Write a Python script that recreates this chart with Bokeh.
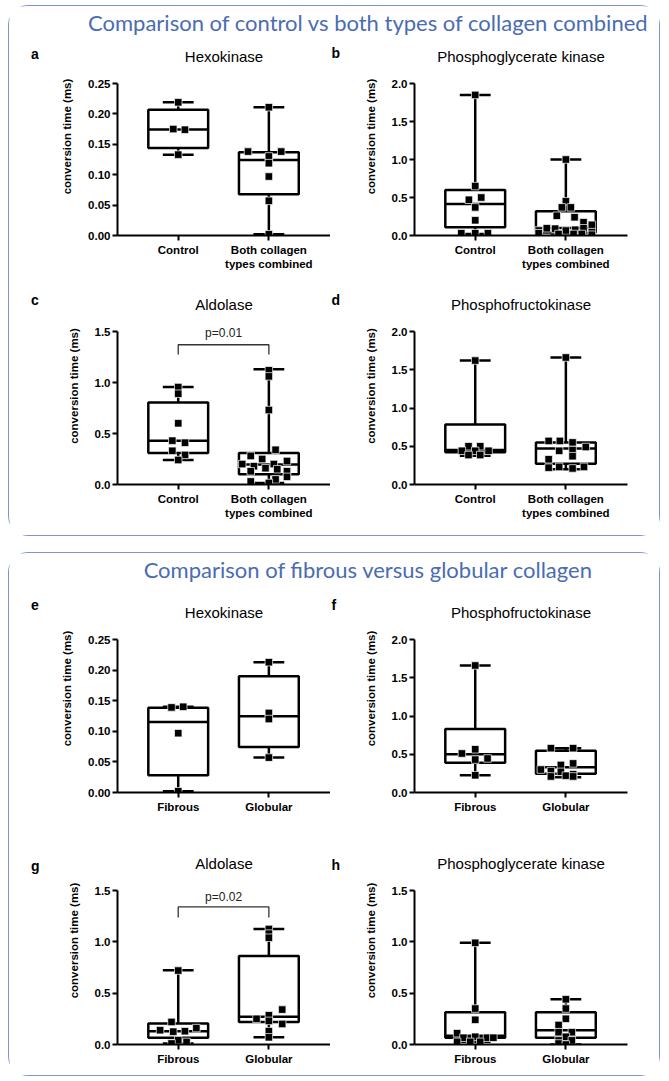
from bokeh.plotting import figure
from bokeh.models import Range1d, FixedTicker, Label, PrintfTickFormatter
from bokeh.layouts import column, row
from bokeh.embed import file_html
from bokeh.resources import INLINE
from bokeh.core.properties import value

# ---------------- data ----------------
section_titles = ["Comparison of control vs both types of collagen combined",
                  "Comparison of fibrous versus globular collagen"]
cats_top = ["Control", "Both collagen\ntypes combined"]
cats_bottom = ["Fibrous", "Globular"]
letters = ["a", "b", "c", "d", "e", "f", "g", "h"]
titles = ["Hexokinase", "Phosphoglycerate kinase", "Aldolase", "Phosphofructokinase",
          "Hexokinase", "Phosphofructokinase", "Aldolase", "Phosphoglycerate kinase"]
y_max = [0.25, 2.0, 1.5, 2.0, 0.25, 2.0, 1.5, 1.5]
y_step = [0.05, 0.5, 0.5, 0.5, 0.05, 0.5, 0.5, 0.5]
y_fmt = ["%.2f", "%.1f", "%.1f", "%.1f", "%.2f", "%.1f", "%.1f", "%.1f"]
y_label = "conversion time (ms)"

# box stats: [min, q1, median, q3, max]
# panel a
a_vals_0 = [0.219, 0.175, 0.174, 0.133]
a_dx_0 = [0, -0.055, 0.074, 0.0]
a_box_0 = [0.133, 0.144, 0.1745, 0.207, 0.219]
a_vals_1 = [0.211, 0.138, 0.138, 0.130, 0.119, 0.097, 0.057, 0.002]
a_dx_1 = [0, -0.23, 0.136, 0, 0, 0, 0, 0]
a_box_1 = [0.002, 0.068, 0.124, 0.137, 0.211]
# panel b
b_vals_0 = [1.85, 0.65, 0.50, 0.47, 0.37, 0.20, 0.03, 0.03, 0.03]
b_dx_0 = [0, 0, 0.066, -0.07, 0, 0, -0.154, 0, 0.14]
b_box_0 = [0.02, 0.11, 0.415, 0.60, 1.85]
b_vals_1 = [1.0, 0.45, 0.37, 0.37, 0.26, 0.24, 0.175, 0.14, 0.065, 0.095,
            0.09, 0.065, 0.075, 0.095, 0.045, 0.03, 0.02, 0.02, 0.02, 0.01]
b_dx_1 = [0, 0, -0.044, 0.055, -0.1, 0.096, 0.195, 0.287, -0.3, -0.21,
          -0.118, 0, 0.103, 0.195, 0.287, -0.3, -0.081, 0.085, 0.176, 0.287]
b_box_1 = [0.0, 0.04, 0.10, 0.32, 1.0]
# panel c
c_vals_0 = [0.955, 0.89, 0.60, 0.43, 0.41, 0.33, 0.29, 0.24]
c_dx_0 = [0, 0, 0, -0.065, 0.075, -0.065, 0.075, 0]
c_box_0 = [0.24, 0.31, 0.43, 0.805, 0.955]
c_vals_1 = [1.12, 1.06, 0.73, 0.34, 0.28, 0.25, 0.23, 0.20, 0.18,
            0.20, 0.16, 0.15, 0.13, 0.13, 0.075, 0.03, 0.05, 0.015]
c_dx_1 = [0, 0, 0, 0.074, -0.2, -0.074, 0.2, -0.294, -0.165,
          0.055, -0.037, 0.092, 0.2, -0.2, 0.2, -0.2, 0.074, 0]
c_box_1 = [0.015, 0.10, 0.195, 0.31, 1.13]
c_sig = [1.37, 1.275, 1.49]          # bracket level, bracket foot, text baseline
c_sig_text = "p=0.01"
# panel d
d_vals_0 = [1.62, 0.50, 0.50, 0.44, 0.44, 0.44, 0.385, 0.385]
d_dx_0 = [0, -0.074, 0.055, -0.147, 0, 0.147, -0.074, 0.055]
d_box_0 = [0.375, 0.42, 0.45, 0.785, 1.62]
d_vals_1 = [1.66, 0.57, 0.57, 0.55, 0.49, 0.44, 0.45, 0.37, 0.33, 0.22, 0.23, 0.21, 0.23]
d_dx_1 = [0, -0.19, -0.066, 0.074, 0.22, -0.074, 0.074, 0.074, -0.19, -0.19, -0.074, 0.074, 0.2]
d_box_1 = [0.20, 0.27, 0.47, 0.55, 1.66]
# panel e
e_vals_0 = [0.139, 0.140, 0.097, 0.002]
e_dx_0 = [-0.074, 0.055, 0, 0]
e_box_0 = [0.002, 0.028, 0.115, 0.1386, 0.140]
e_vals_1 = [0.213, 0.130, 0.120, 0.057]
e_dx_1 = [0, 0, 0, 0]
e_box_1 = [0.057, 0.0745, 0.1245, 0.190, 0.213]
# panel f
f_vals_0 = [1.66, 0.51, 0.565, 0.445, 0.43, 0.225]
f_dx_0 = [0, -0.147, 0, 0.136, 0, 0]
f_box_0 = [0.225, 0.39, 0.50, 0.83, 1.66]
f_vals_1 = [0.58, 0.58, 0.38, 0.36, 0.30, 0.28, 0.27, 0.24, 0.22, 0.21, 0.21]
f_dx_1 = [-0.165, 0.08, 0.08, -0.055, -0.276, -0.165, -0.055, 0.08, 0, -0.165, 0.08]
f_box_1 = [0.20, 0.245, 0.33, 0.545, 0.58]
# panel g
g_vals_0 = [0.72, 0.22, 0.14, 0.125, 0.13, 0.16, 0.042, 0.01, 0.025]
g_dx_0 = [0, -0.074, -0.2, -0.055, 0.074, 0.2, 0, -0.074, 0.092]
g_box_0 = [0.01, 0.065, 0.13, 0.204, 0.722]
g_vals_1 = [1.125, 1.08, 1.04, 0.34, 0.25, 0.285, 0.23, 0.20, 0.13, 0.07]
g_dx_1 = [0, 0, 0, 0.147, -0.136, 0, 0, 0.147, 0, 0]
g_box_1 = [0.07, 0.22, 0.27, 0.862, 1.125]
g_sig = [1.34, 1.236, 1.44]
g_sig_text = "p=0.02"
# panel h
h_vals_0 = [0.99, 0.35, 0.24, 0.11, 0.066, 0.075, 0.066, 0.066, 0.026, 0.026, 0.026]
h_dx_0 = [0, 0, 0, -0.2, -0.13, 0, 0.13, 0.2, -0.2, -0.055, 0.055]
h_box_0 = [0.026, 0.066, 0.085, 0.315, 0.99]
h_vals_1 = [0.44, 0.35, 0.25, 0.19, 0.12, 0.12, 0.075, 0.04, 0.04, 0.01, 0.0]
h_dx_1 = [0, 0, 0, -0.08, 0.066, -0.08, 0, -0.08, 0.066, -0.08, 0]
h_box_1 = [0.0, 0.066, 0.14, 0.315, 0.44]

# ---------------- styling / layout ----------------
FONT = "Liberation Sans"
HEAD_FONT = "Lato"
HEAD_COLOR = "#4a6cb3"
FRAME_COLOR = "#7b95cf"
X0, X1 = -0.67, 1.68
BOX_HALF = 0.33
CAP_HALF = 0.17
LW = 2.5
FRAME_W = 213
TITLE_DY = 27.5   # px between top tick and title


def blank(width, height):
    f = figure(width=width, height=height, x_range=Range1d(0, width), y_range=Range1d(0, height),
               output_backend="svg", toolbar_location=None,
               x_axis_location=None, y_axis_location=None, min_border=0)
    f.outline_line_color = None
    f.grid.visible = False
    return f


def letter_fig(i, col, height, baseline_from_top):
    width, lx = (30, 21.5) if col == 0 else (14, 1)
    f = blank(width, height)
    f.add_layout(Label(x=lx, y=height - baseline_from_top, text=letters[i], text_font=FONT,
                       text_font_style="bold", text_font_size="14px", text_align="left",
                       text_baseline="alphabetic", text_color="black"))
    return f


def make_panel(i, cats, g0, g1, sig, sig_text, col, height, top_px, plot_px):
    if col == 0:
        width, border_left = 78 + FRAME_W, 78
    else:
        width, border_left = 70 + FRAME_W + 32, 70
    frame_h = top_px + plot_px
    ymax = y_max[i]
    y_end = ymax * frame_h / plot_px
    p = figure(width=width, height=height, x_range=Range1d(X0, X1), y_range=Range1d(0, y_end),
               output_backend="svg", toolbar_location=None,
               min_border_left=border_left, min_border_right=width - border_left - FRAME_W,
               min_border_top=0, min_border_bottom=height - frame_h)
    p.title.visible = False
    p.outline_line_color = None
    p.grid.visible = False

    vals = [g0[0], g1[0]]
    dxs = [g0[1], g1[1]]
    boxes = [g0[2], g1[2]]
    xs = [0, 1]
    mins = [b[0] for b in boxes]
    q1s = [b[1] for b in boxes]
    meds = [b[2] for b in boxes]
    q3s = [b[3] for b in boxes]
    maxs = [b[4] for b in boxes]

    p.segment(x0=xs, y0=mins, x1=xs, y1=maxs, line_color="black", line_width=LW)
    p.quad(left=[x - BOX_HALF for x in xs], right=[x + BOX_HALF for x in xs],
           bottom=q1s, top=q3s, fill_color="white", line_color="black", line_width=LW)
    p.segment(x0=[x - BOX_HALF for x in xs], y0=meds, x1=[x + BOX_HALF for x in xs], y1=meds,
              line_color="black", line_width=LW)
    for ys in (mins, maxs):
        p.segment(x0=[x - CAP_HALF for x in xs], y0=ys, x1=[x + CAP_HALF for x in xs], y1=ys,
                  line_color="black", line_width=LW)
    for k in range(2):
        p.scatter(x=[xs[k] + d for d in dxs[k]], y=vals[k], marker="square", size=7.5,
                  fill_color="black", line_color="white", line_width=0.7)

    if sig is not None:
        p.line(x=[0, 0, 1, 1], y=[sig[1], sig[0], sig[0], sig[1]], line_color="#333333", line_width=1.3)
        p.text(x=[0.5], y=[sig[2]], text=[sig_text], text_align="center", text_baseline="alphabetic",
               text_font=value(FONT), text_font_size="12px", text_color="#222222")

    ticks = [round(k * y_step[i], 4) for k in range(int(round(ymax / y_step[i])) + 1)]
    ya = p.yaxis[0]
    ya.ticker = FixedTicker(ticks=ticks)
    ya.formatter = PrintfTickFormatter(format=y_fmt[i])
    ya.bounds = (0, ymax)
    ya.axis_label = y_label
    ya.axis_label_text_font = FONT
    ya.axis_label_text_font_style = "bold"
    ya.axis_label_text_font_size = "11.5px"
    ya.axis_label_standoff = 12
    ya.major_label_standoff = 2

    xa = p.xaxis[0]
    xa.ticker = FixedTicker(ticks=[0, 1])
    xa.major_label_overrides = {0: cats[0], 1: cats[1]}
    xa.major_label_standoff = 3

    for ax in (xa, ya):
        ax.axis_line_width = 2
        ax.axis_line_color = "black"
        ax.major_tick_line_width = 2
        ax.major_tick_line_color = "black"
        ax.major_tick_out = 5
        ax.major_tick_in = 0
        ax.minor_tick_line_color = None
        ax.major_label_text_font = FONT
        ax.major_label_text_font_style = "bold"
        ax.major_label_text_font_size = "11.5px"
        ax.major_label_text_color = "black"
        ax.axis_label_text_color = "black"

    sy = plot_px / ymax
    p.add_layout(Label(x=(X0 + X1) / 2, y=ymax + TITLE_DY / sy, text=titles[i],
                       text_font=FONT, text_font_size="15px",
                       text_align="center", text_baseline="alphabetic", text_color="black"))
    return p


def heading(text):
    h = blank(650, 31)
    h.add_layout(Label(x=359, y=15.5, text=text, text_align="center", text_baseline="middle",
                       text_font=HEAD_FONT, text_font_size="22px", text_color=HEAD_COLOR))
    return h


pa = make_panel(0, cats_top, (a_vals_0, a_dx_0, a_box_0), (a_vals_1, a_dx_1, a_box_1), None, None, 0, 250, 46, 152)
pb = make_panel(1, cats_top, (b_vals_0, b_dx_0, b_box_0), (b_vals_1, b_dx_1, b_box_1), None, None, 1, 250, 46, 152)
pc = make_panel(2, cats_top, (c_vals_0, c_dx_0, c_box_0), (c_vals_1, c_dx_1, c_box_1), c_sig, c_sig_text, 0, 248, 44, 153)
pd = make_panel(3, cats_top, (d_vals_0, d_dx_0, d_box_0), (d_vals_1, d_dx_1, d_box_1), None, None, 1, 248, 44, 153)
pe = make_panel(4, cats_bottom, (e_vals_0, e_dx_0, e_box_0), (e_vals_1, e_dx_1, e_box_1), None, None, 0, 252, 55, 153)
pf = make_panel(5, cats_bottom, (f_vals_0, f_dx_0, f_box_0), (f_vals_1, f_dx_1, f_box_1), None, None, 1, 252, 55, 153)
pg = make_panel(6, cats_bottom, (g_vals_0, g_dx_0, g_box_0), (g_vals_1, g_dx_1, g_box_1), g_sig, g_sig_text, 0, 239, 54, 154)
ph = make_panel(7, cats_bottom, (h_vals_0, h_dx_0, h_box_0), (h_vals_1, h_dx_1, h_box_1), None, None, 1, 239, 54, 154)

r1 = row(letter_fig(0, 0, 250, 21), pa, letter_fig(1, 1, 250, 19), pb)
r2 = row(letter_fig(2, 0, 248, 16), pc, letter_fig(3, 1, 248, 16), pd)
r3 = row(letter_fig(4, 0, 252, 25), pe, letter_fig(5, 1, 252, 24.5), pf)
r4 = row(letter_fig(6, 0, 239, 33.5), pg, letter_fig(7, 1, 239, 32.5), ph)

frame_style = {"border": f"1.5px solid {FRAME_COLOR}", "border-radius": "20px", "background": "white"}
sec1 = column(heading(section_titles[0]), r1, r2, styles=frame_style)
sec2 = column(heading(section_titles[1]), r3, r4, styles=frame_style)
page = column(sec1, sec2, spacing=16, margin=(5, 0, 0, 8))

open("out.html", "w").write(file_html(page, INLINE))
